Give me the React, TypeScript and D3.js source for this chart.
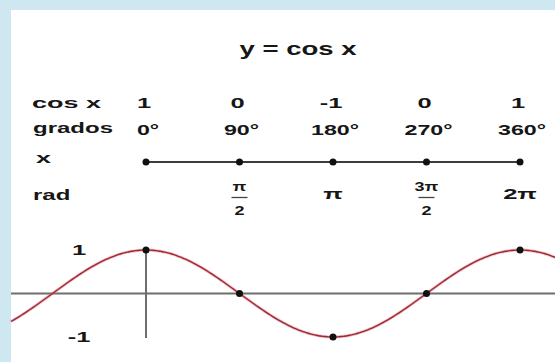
import React from "react";
import * as d3 from "d3";

// Key angles of one period, in degrees, with the cosine at each of them
const degrees = [0, 90, 180, 270, 360];
const cosValues = [1, 0, -1, 0, 1];
// Radian labels: numerator / denominator ("" when the label is a single term)
const radNumerators = ["", "π", "π", "3π", "2π"];
const radDenominators = ["", "2", "", "2", ""];
// Row headings of the table
const rowLabels = ["cos x", "grados", "x", "rad"];
// Visible stretch of the curve, in degrees
const curveDomain = [-130, 394];
const yTicks = [1, -1];

const W = 555;
const H = 362;
const FONT = "'Liberation Sans', Arial, Helvetica, sans-serif";
const INK = "#161616";

function Label({ x, y, text, size = 15, sx = 1.7, anchor = "middle" }: { x: number; y: number; text: string; size?: number; sx?: number; anchor?: string }) {
  return (
    <text
      transform={`translate(${x},${y}) scale(${sx},1)`}
      textAnchor={anchor as any}
      fontFamily={FONT}
      fontWeight="bold"
      fontSize={size}
      fill={INK}
    >
      {text}
    </text>
  );
}

export default function App() {
  const x = d3.scaleLinear().domain([0, 360]).range([146, 520]);
  const y = d3.scaleLinear().domain([-1, 1]).range([337, 250]);

  const rowY = { cos: 108, grados: 135, line: 162, rad: 199 };

  const samples = d3.range(curveDomain[0], curveDomain[1] + 1, 2).map((d) => [d, Math.cos((d * Math.PI) / 180)]);
  const line = d3
    .line<number[]>()
    .x((d) => x(d[0]))
    .y((d) => y(d[1]))
    .curve(d3.curveBasis);

  return (
    <svg width={W} height={H} style={{ position: "fixed", left: 0, top: 0 }}>
      <rect x={0} y={0} width={W} height={H} fill="#cfe7f0" />
      <rect x={11} y={10} width={W - 11} height={H - 10} fill="#ffffff" />

      <Label x={298} y={55} text="y = cos x" size={19} sx={1.45} />

      {/* row headings */}
      <Label x={32} y={rowY.cos} text={rowLabels[0]} anchor="start" sx={1.8} />
      <Label x={33} y={rowY.grados - 2} text={rowLabels[1]} anchor="start" sx={1.6} />
      <Label x={36} y={rowY.line + 1} text={rowLabels[2]} anchor="start" sx={1.8} />
      <Label x={33} y={rowY.rad + 1} text={rowLabels[3]} anchor="start" sx={1.6} />

      {/* cos values and degrees */}
      {degrees.map((d, i) => (
        <g key={`col-${d}`}>
          <Label x={x(d) - 2} y={rowY.cos} text={String(cosValues[i])} />
          <Label x={x(d) + 2} y={rowY.grados} text={`${d}°`} sx={1.55} />
        </g>
      ))}

      {/* number line */}
      <line x1={x(0)} x2={x(360)} y1={rowY.line} y2={rowY.line} stroke="#3c3c3c" strokeWidth={2.2} />
      {degrees.map((d) => (
        <circle key={`nl-${d}`} cx={x(d)} cy={rowY.line} r={3.5} fill="#111" />
      ))}

      {/* radian labels */}
      {degrees.map((d, i) => {
        const num = radNumerators[i];
        const den = radDenominators[i];
        if (!num) return null;
        if (den) {
          return (
            <g key={`rad-${d}`}>
              <Label x={x(d)} y={191} text={num} size={12} sx={1.5} />
              <line x1={x(d) - 8} x2={x(d) + 8} y1={197.5} y2={197.5} stroke="#444" strokeWidth={1.3} />
              <Label x={x(d)} y={215} text={den} size={12} sx={1.5} />
            </g>
          );
        }
        return <Label key={`rad-${d}`} x={x(d)} y={rowY.rad} text={num} />;
      })}

      {/* axes of the graph */}
      <line x1={11} x2={W} y1={y(0)} y2={y(0)} stroke="#6e6e6e" strokeWidth={2} />
      <line x1={x(0)} x2={x(0)} y1={y(1)} y2={338} stroke="#6e6e6e" strokeWidth={2} />
      {yTicks.map((t) => (
        <Label key={`yt-${t}`} x={79} y={y(t) + 5} text={String(t)} />
      ))}

      {/* cosine curve */}
      <path d={line(samples) || ""} fill="none" stroke="#e46a78" strokeWidth={3} strokeOpacity={0.45} />
      <path d={line(samples) || ""} fill="none" stroke="#9a2a36" strokeWidth={1.4} />
      {degrees.map((d, i) => (
        <circle key={`pt-${d}`} cx={x(d)} cy={y(cosValues[i])} r={3.5} fill="#111" />
      ))}
    </svg>
  );
}
